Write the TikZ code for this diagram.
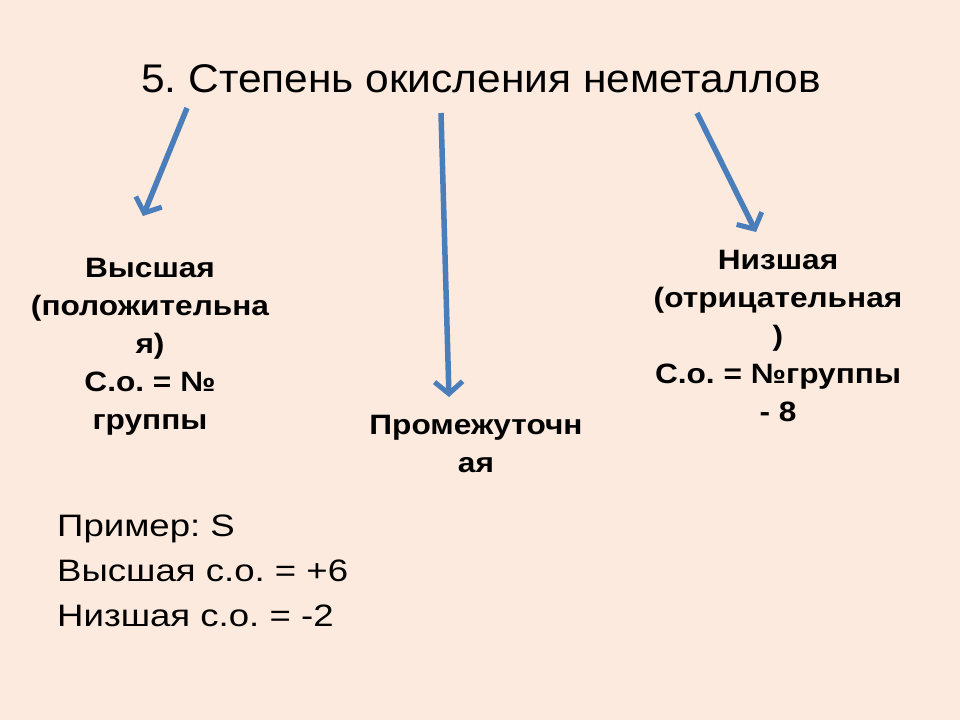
\documentclass[tikz,border=0pt]{standalone}
\usepackage{fontspec}
\setmainfont{Liberation Sans}
\newfontfamily\boldwide[FakeStretch=1.13]{Liberation Sans}
\newfontfamily\plainwide[FakeStretch=1.18]{Liberation Sans}
\newfontfamily\titlewide[FakeStretch=1.062]{Liberation Sans}
\usetikzlibrary{arrows.meta}
\frenchspacing
\definecolor{bgc}{HTML}{FCEADE}
\definecolor{arrc}{HTML}{4A7EBB}
\tikzset{
  arr/.style={draw=arrc, line width=5.5pt, -{Straight Barb[length=12pt,width=28pt,line width=5pt]}},
  boldtxt/.style={inner sep=0pt, align=center, font=\boldwide\bfseries\fontsize{28}{38}\selectfont},
  plaintxt/.style={inner sep=0pt, align=left, font=\plainwide\fontsize{31}{45}\selectfont},
}
\begin{document}
\begin{tikzpicture}[x=1pt,y=-1pt]
\fill[bgc] (0,0) rectangle (960,720);
\useasboundingbox (0,0) rectangle (960,720);
\node[inner sep=0pt, anchor=base, font=\titlewide\fontsize{40}{48}\selectfont] (title) at (481,92) {5. Степень окисления неметаллов};
\node[boldtxt, anchor=base] (high) at (150,429) {Высшая\\(положительна\\я)\\С.о. = №\\группы};
\node[boldtxt, anchor=base] (mid) at (476,472) {Промежуточн\\ая};
\node[boldtxt, anchor=base] (low) at (778,421) {Низшая\\(отрицательная\\)\\С.о. = №группы\\- 8};
\node[plaintxt, anchor=base west] (ex) at (57,626) {Пример: S\\Высшая с.о. = +6\\Низшая с.о. = -2};
\coordinate (s1) at (187,108); \coordinate (e1) at (143,216);
\coordinate (s2) at (441,113); \coordinate (e2) at (449,397);
\coordinate (s3) at (697,113); \coordinate (e3) at (756,232);
\draw[arr] (s1) -- (e1);
\draw[arr] (s2) -- (e2);
\draw[arr] (s3) -- (e3);
\end{tikzpicture}
\end{document}
